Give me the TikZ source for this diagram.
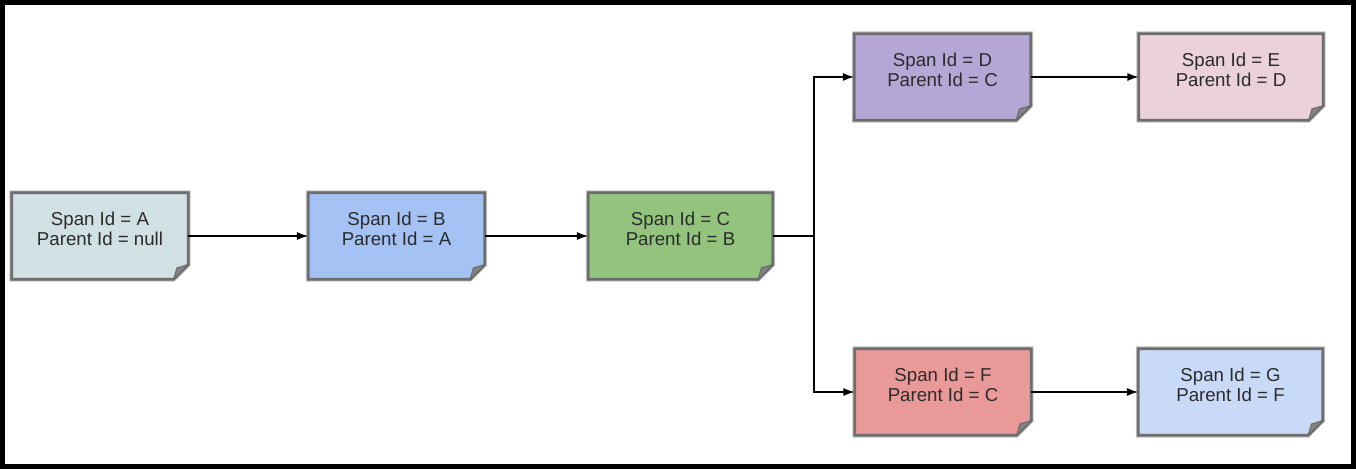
\documentclass[tikz,border=0pt]{standalone}
\usepackage{fontspec}
\setmainfont{Liberation Sans}
\usetikzlibrary{arrows.meta,backgrounds}

\definecolor{spanA}{HTML}{D0E0E3}
\definecolor{spanB}{HTML}{A4C2F4}
\definecolor{spanC}{HTML}{93C47D}
\definecolor{spanD}{HTML}{B4A7D6}
\definecolor{spanE}{HTML}{EAD1DC}
\definecolor{spanF}{HTML}{EA9999}
\definecolor{spanG}{HTML}{C9DAF8}
\definecolor{noteedge}{HTML}{6D6D6D}
\definecolor{notehalo}{HTML}{C4C4C4}
\definecolor{notetext}{HTML}{2B2B2B}

\tikzset{
  span/.style={minimum width=132pt, minimum height=64.5pt, inner sep=0pt,
    align=center, text=notetext, text depth=10.5pt,
    font=\fontsize{14}{15}\selectfont},
  widespan/.style={span, minimum width=138pt},
  notebox/.style={draw=noteedge, line width=2pt, line join=miter,
    preaction={draw=notehalo, line width=3.5pt}},
  fold/.style={fill=noteedge!85, draw=noteedge, line width=0.8pt},
  link/.style={-{Latex[length=8.5pt,width=6pt]}, line width=1.1pt}
}

\begin{document}
\begin{tikzpicture}[x=0.75pt, y=-0.75pt]
\useasboundingbox (0,0) rectangle (1356,469);
% Outer frame
\draw[line width=3.75pt] (2.5,2.5) rectangle (1353,466);

% Spans
\node[span]     (a) at (100,236)   {Span Id = A\\Parent Id = null};
\node[span]     (b) at (396.5,236) {Span Id = B\\Parent Id = A};
\node[widespan] (c) at (680.5,236) {Span Id = C\\Parent Id = B};
\node[span]     (d) at (942.5,77)  {Span Id = D\\Parent Id = C};
\node[widespan] (e) at (1231,77)   {Span Id = E\\Parent Id = D};
\node[span]     (f) at (943,392)   {Span Id = F\\Parent Id = C};
\node[widespan] (g) at (1230.5,392) {Span Id = G\\Parent Id = F};

% Folded-corner notes behind the text
\begin{scope}[on background layer]
\foreach \n/\c in {a/spanA,b/spanB,c/spanC,d/spanD,e/spanE,f/spanF,g/spanG} {
    \draw[notebox, fill=\c] (\n.north west) -- (\n.north east)
        -- ([yshift=11pt]\n.south east) -- ([xshift=-11pt]\n.south east)
        -- (\n.south west) -- cycle;
    \draw[fold] ([yshift=11pt]\n.south east) -- ([xshift=-11pt]\n.south east)
        -- ([xshift=-8.5pt,yshift=8.5pt]\n.south east) -- cycle;
}
\end{scope}

% Parent links
\coordinate (split) at (814,236);
\draw[link] (a) -- (b);
\draw[link] (b) -- (c);
\draw[line width=1.1pt] (c) -- (split);
\draw[link] (split) |- (d);
\draw[link] (split) |- (f);
\draw[link] (d) -- (e);
\draw[link] (f) -- (g);

\end{tikzpicture}
\end{document}
